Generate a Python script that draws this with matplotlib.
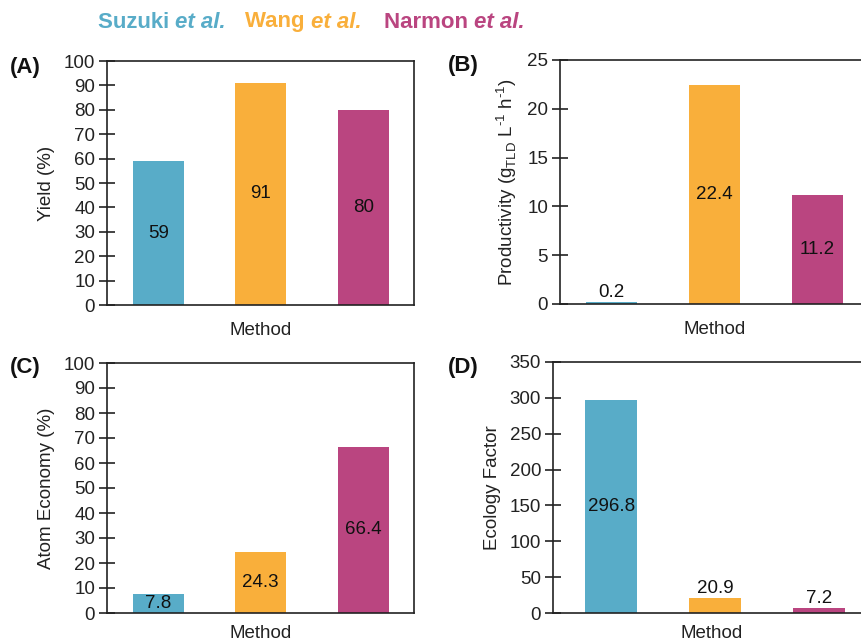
import matplotlib
matplotlib.use("Agg")
import matplotlib.pyplot as plt

plt.rcParams['font.family'] = ['Liberation Sans', 'DejaVu Sans']
plt.rcParams['mathtext.fontset'] = 'custom'
plt.rcParams['mathtext.rm'] = 'Liberation Sans'

methods = ["Suzuki", "Wang", "Narmon"]
colors = ["#58ACC8", "#F9AF3B", "#BA4580"]

yield_pct = [59, 91, 80]
productivity = [0.2, 22.4, 11.2]
atom_economy = [7.8, 24.3, 66.4]
e_factor = [296.8, 20.9, 7.2]

panel_labels = ["(A)", "(B)", "(C)", "(D)"]
ylabels = ["Yield (%)",
           r"Productivity (g$_{\mathregular{TLD}}$ L$^{\text{-1}}$ h$^{\text{-1}}$)",
           "Atom Economy (%)", "Ecology Factor"]
ylims = [(0, 100), (0, 25), (0, 100), (0, 350)]
ysteps = [10, 5, 10, 50]
xlabel = "Method"

W, H = 862, 641
fig = plt.figure(figsize=(W / 100, H / 100), dpi=100)

# left, top, bottom in px ; xlim left, px per unit
layouts = [
    (107, 61, 305, -0.5, 102.5),
    (560, 60, 304, -0.5, 103),
    (107, 363, 613, -0.5, 102.5),
    (553, 362, 613, -0.56, 104),
]
datasets = [yield_pct, productivity, atom_economy, e_factor]
label_pos = [(10, 67), (448, 65), (10, 368), (448, 367)]
xlabelpads = [12, 12, 9, 9]

fs = 13.5
for i, (data, lay) in enumerate(zip(datasets, layouts)):
    left, top, bottom, xl, ppu = lay
    xr = xl + 3.0 if i in (0, 2) else 2.5
    width_px = (xr - xl) * ppu
    ax = fig.add_axes([left / W, 1 - bottom / H, width_px / W, (bottom - top) / H])
    x = list(range(len(methods)))
    ax.bar(x, data, width=0.5, color=colors, zorder=2)
    ax.set_xlim(xl, xr)
    lo, hi = ylims[i]
    ax.set_ylim(lo, hi)
    ax.set_yticks(range(lo, hi + 1, ysteps[i]))
    ax.set_xticks([])
    ax.tick_params(axis='y', direction='inout', length=11, width=1.2,
                   labelsize=fs, pad=3, colors='#222222')
    for sp in ax.spines.values():
        sp.set_linewidth(1.2)
        sp.set_color('#222222')
    ax.set_xlabel(xlabel, fontsize=fs, labelpad=xlabelpads[i], color='#222222')
    ax.set_ylabel(ylabels[i], fontsize=fs, color='#222222', labelpad=6)
    span = hi - lo
    for xi, v in zip(x, data):
        if v / span > 0.07:
            ax.text(xi, v / 2, f"{v:g}", ha='center', va='center',
                    fontsize=fs, color='#111111', zorder=3)
        else:
            ax.text(xi, v + span * 0.005, f"{v:g}", ha='center', va='bottom',
                    fontsize=fs, color='#111111', zorder=3)
    lx, ly = label_pos[i]
    fig.text(lx / W, 1 - ly / H, panel_labels[i], fontsize=16, fontweight='bold',
             ha='left', va='center', color='#111111')

# header legend built from text pieces
fig.canvas.draw()
renderer = fig.canvas.get_renderer()
starts = [98, 245, 384]
for name, col, sx in zip(methods, colors, starts):
    t1 = fig.text(sx / W, 1 - 22 / H, name + " ", fontsize=16, fontweight='bold',
                  color=col, ha='left', va='center')
    bb = t1.get_window_extent(renderer)
    fig.text(bb.x1 / W, 1 - 22 / H, "et al.", fontsize=16, fontweight='bold',
             fontstyle='italic', color=col, ha='left', va='center')

fig.savefig("out.png", dpi=100)
